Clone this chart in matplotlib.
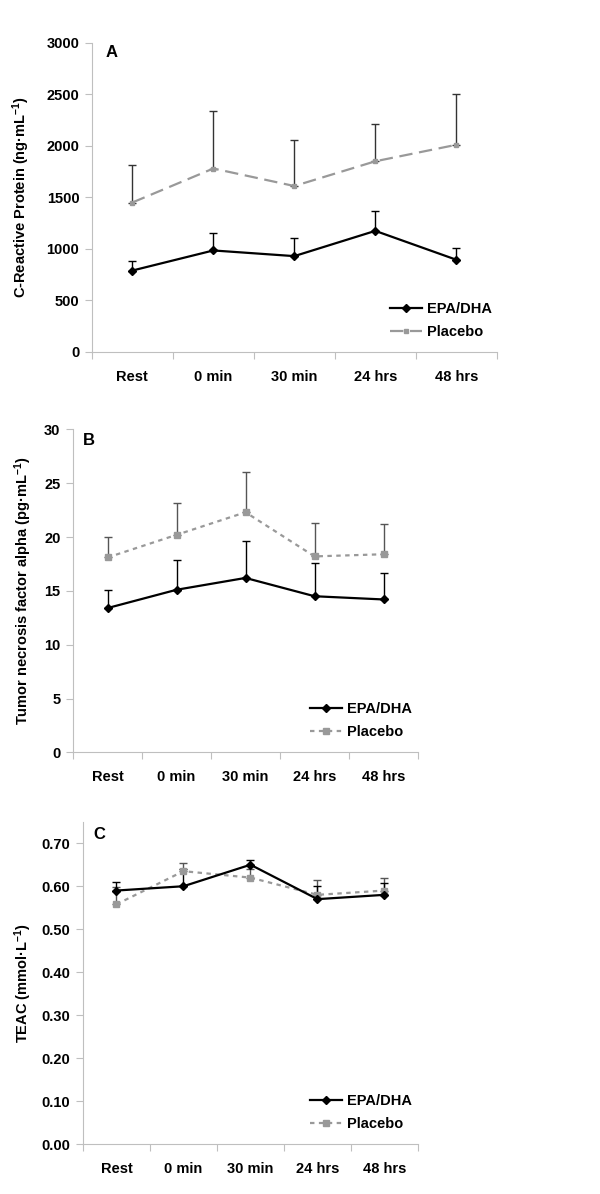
import numpy as np
import matplotlib.pyplot as plt

plt.rcParams['font.family'] = ['Liberation Sans', 'DejaVu Sans']
plt.rcParams['font.weight'] = 'bold'
plt.rcParams['mathtext.fontset'] = 'custom'
plt.rcParams['mathtext.rm'] = 'Liberation Sans:bold'
plt.rcParams['mathtext.default'] = 'rm'

times = ['Rest', '0 min', '30 min', '24 hrs', '48 hrs']

# Panel A: C-reactive protein
crp_epa = [790, 985, 930, 1175, 895]
crp_epa_top = [885, 1150, 1110, 1365, 1005]
crp_pla = [1450, 1780, 1610, 1850, 2010]
crp_pla_top = [1810, 2340, 2055, 2215, 2500]

# Panel B: TNF alpha
tnf_epa = [13.4, 15.1, 16.2, 14.5, 14.2]
tnf_epa_top = [15.1, 17.9, 19.6, 17.6, 16.7]
tnf_pla = [18.1, 20.2, 22.3, 18.2, 18.4]
tnf_pla_top = [20.0, 23.2, 26.0, 21.3, 21.2]

# Panel C: TEAC
teac_epa = [0.59, 0.60, 0.65, 0.57, 0.58]
teac_epa_top = [0.61, 0.64, 0.66, 0.60, 0.608]
teac_pla = [0.558, 0.635, 0.62, 0.58, 0.59]
teac_pla_top = [0.598, 0.655, 0.64, 0.615, 0.618]

fig = plt.figure(figsize=(6, 11.94), dpi=100)
axA = fig.add_axes([0.153, 0.7052, 0.675, 0.259])
axB = fig.add_axes([0.1217, 0.3699, 0.575, 0.2705])
axC = fig.add_axes([0.1383, 0.0416, 0.5583, 0.2702])

x = np.arange(len(times)) + 0.5
spine_col = '#bfbfbf'
gray = '#999999'


def panel(ax, epa, epa_top, pla, pla_top, ylim, yticks, yfmt, ylabel, letter,
          pla_ls, pla_ms, pla_err_col, lab_x, let_xy):
    epa = np.array(epa)
    pla = np.array(pla)
    ax.errorbar(x, pla, yerr=[np.zeros(5), np.array(pla_top) - pla], fmt='none',
                ecolor=pla_err_col, elinewidth=1, capsize=3, capthick=1, zorder=2)
    ax.errorbar(x, epa, yerr=[np.zeros(5), np.array(epa_top) - epa], fmt='none',
                ecolor='black', elinewidth=1, capsize=3, capthick=1, zorder=2)
    ax.plot(x, epa, color='black', lw=1.6, marker='D', ms=4, label='EPA/DHA', zorder=4)
    ax.plot(x, pla, color=gray, lw=1.6, ls=pla_ls, marker='s', ms=pla_ms,
            label='Placebo', zorder=3)
    ax.set_xlim(0, 5)
    ax.set_ylim(*ylim)
    ax.set_yticks(yticks)
    ax.set_yticklabels([yfmt.format(v) for v in yticks])
    ax.set_xticks(np.arange(6))
    ax.set_xticklabels([])
    ax.set_xticks(x, minor=True)
    ax.set_xticklabels(times, minor=True)
    ax.tick_params(axis='x', which='major', length=5, color=spine_col)
    ax.tick_params(axis='x', which='minor', length=0, pad=13, labelsize=10.5)
    ax.tick_params(axis='y', length=5, color=spine_col, labelsize=10.5, pad=4)
    for s in ['top', 'right']:
        ax.spines[s].set_visible(False)
    for s in ['left', 'bottom']:
        ax.spines[s].set_color(spine_col)
    ax.set_ylabel(ylabel, fontsize=10.5, fontweight='bold')
    ax.yaxis.set_label_coords(lab_x, 0.5)
    ax.text(let_xy[0], let_xy[1], letter, transform=ax.transAxes, fontsize=12,
            fontweight='bold', ha='left', va='center')
    ax.legend(loc='lower right', bbox_to_anchor=(1.02, 0.0), frameon=False,
              fontsize=10.5, handlelength=2.2, handletextpad=0.3, labelspacing=0.6)


panel(axA, crp_epa, crp_epa_top, crp_pla, crp_pla_top, (0, 3000),
      np.arange(0, 3001, 500), '{:.0f}', r'C-Reactive Protein (ng·mL$^{-1}$)', 'A',
      (0, (6, 3)), 3, '#333333', -0.148, (0.035, 0.97))
panel(axB, tnf_epa, tnf_epa_top, tnf_pla, tnf_pla_top, (0, 30),
      np.arange(0, 31, 5), '{:.0f}', r'Tumor necrosis factor alpha (pg·mL$^{-1}$)', 'B',
      (0, (2, 2)), 5, '#555555', -0.113, (0.03, 0.967))
panel(axC, teac_epa, teac_epa_top, teac_pla, teac_pla_top, (0, 0.75),
      np.arange(0, 0.71, 0.1), '{:.2f}', r'TEAC (mmol·L$^{-1}$)', 'C',
      (0, (2, 2)), 5, '#555555', -0.146, (0.03, 0.959))

fig.savefig('out.png', dpi=100)
